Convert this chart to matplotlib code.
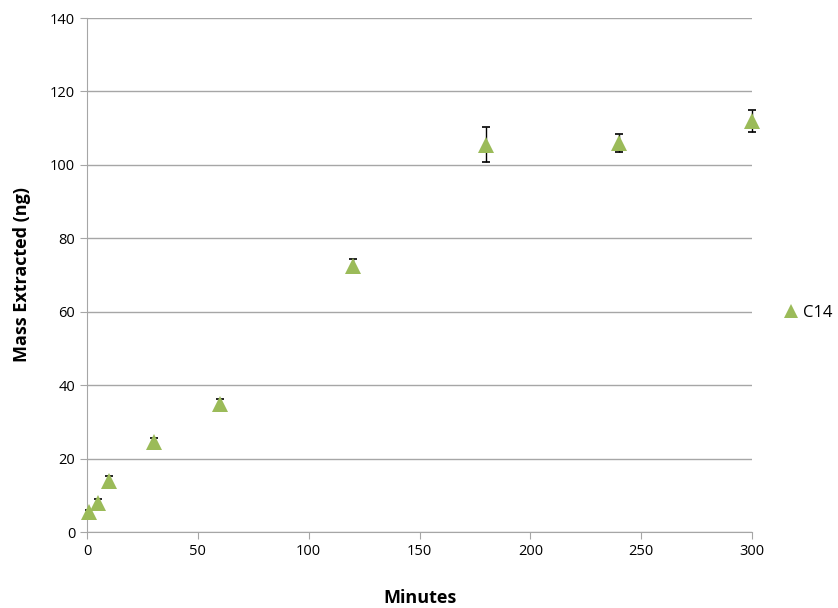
import matplotlib
matplotlib.use("Agg")
import matplotlib.pyplot as plt
from matplotlib.lines import Line2D

minutes = [1, 5, 10, 30, 60, 120, 180, 240, 300]
mass = [5.5, 8.0, 14.0, 24.5, 35.0, 72.4, 105.5, 106.0, 112.0]
err = [0.5, 1.0, 1.3, 1.2, 1.3, 1.9, 4.8, 2.4, 3.0]
series_name = "C14"

plt.rcParams['font.family'] = ['Open Sans', 'DejaVu Sans']

fig = plt.figure(figsize=(8.38, 6.08), dpi=100)
ax = fig.add_axes([87/838, 1-532/608, (752-87)/838, (532-18)/608])

green = '#9BBB59'
ax.errorbar(minutes, mass, yerr=err, fmt='none', ecolor='black', elinewidth=1,
            capsize=3, capthick=1.2, zorder=3, clip_on=False)
ax.plot(minutes, mass, linestyle='none', marker='^', markersize=12, color=green,
        markeredgewidth=0, zorder=4, clip_on=False)

ax.set_xlim(0, 300)
ax.set_ylim(0, 140)
ax.set_xticks(range(0, 301, 50))
ax.set_yticks(range(0, 141, 20))
ax.yaxis.grid(True, color='#A6A6A6', linewidth=1)
ax.set_axisbelow(True)
for s in ['top', 'right']:
    ax.spines[s].set_visible(False)
for s in ['left', 'bottom']:
    ax.spines[s].set_color('#A6A6A6')
ax.tick_params(axis='both', colors='#A6A6A6', labelcolor='black', labelsize=10.5,
               direction='out', length=5)

ax.set_xlabel('Minutes', fontsize=13, fontweight='bold', labelpad=22)
ax.set_ylabel('Mass Extracted (ng)', fontsize=13, fontweight='bold', labelpad=14)

handle = Line2D([], [], linestyle='none', marker='^', markersize=10, color=green,
                markeredgewidth=0)
fig.legend([handle], [series_name], loc='center left', bbox_to_anchor=(766/838, 1-313/608),
           frameon=False, fontsize=12, handletextpad=0.1, handlelength=1.2)

fig.savefig('out.png', dpi=100, facecolor='white')
